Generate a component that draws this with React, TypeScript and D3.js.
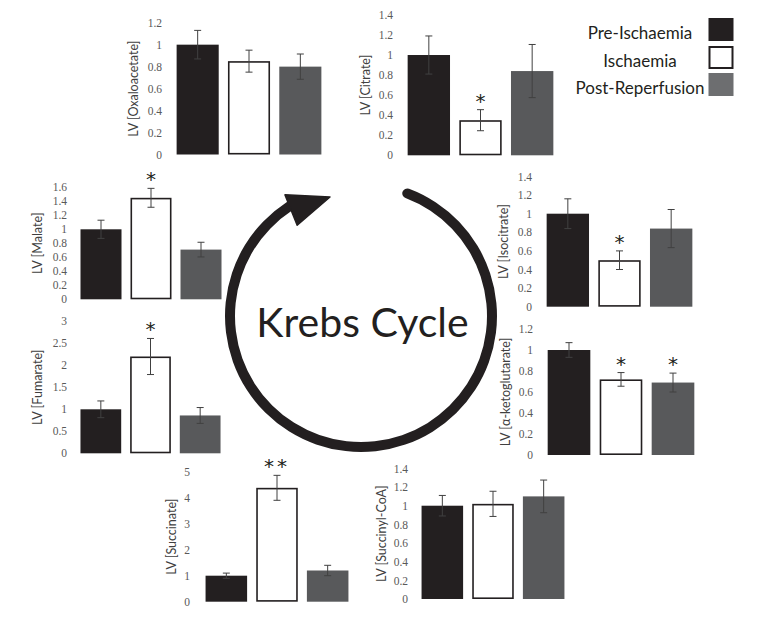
import React, { useEffect, useRef } from 'react';
import * as d3 from 'd3';

// data
const groups = ['Pre-Ischaemia', 'Ischaemia', 'Post-Reperfusion'];
const metabolites = [
  'Oxaloacetate',
  'Citrate',
  'Malate',
  'Isocitrate',
  'Fumarate',
  'α-ketoglutarate',
  'Succinate',
  'Succinyl-CoA',
];
const means = [
  [1.0, 0.85, 0.8],
  [1.0, 0.35, 0.84],
  [1.0, 1.45, 0.71],
  [1.0, 0.5, 0.84],
  [1.0, 2.2, 0.86],
  [1.0, 0.72, 0.69],
  [1.0, 4.38, 1.2],
  [1.0, 1.02, 1.1],
];
const errors = [
  [0.13, 0.1, 0.115],
  [0.19, 0.105, 0.265],
  [0.13, 0.135, 0.105],
  [0.16, 0.1, 0.205],
  [0.19, 0.41, 0.18],
  [0.07, 0.065, 0.09],
  [0.1, 0.48, 0.2],
  [0.11, 0.135, 0.175],
];
const stars = [
  ['', '', ''],
  ['', '*', ''],
  ['', '*', ''],
  ['', '*', ''],
  ['', '*', ''],
  ['', '*', '*'],
  ['', '**', ''],
  ['', '', ''],
];
const axisMax = [1.2, 1.4, 1.6, 1.4, 3, 1.2, 5, 1.4];
const tickStep = [0.2, 0.2, 0.2, 0.2, 0.5, 0.2, 1, 0.2];

// layout of each small chart: bar range left/right, baseline y, top y, tick label x, title x
const panels = [
  [172, 326, 154.5, 22.7, 162, 133],
  [403, 558, 155.3, 14.9, 393, 365],
  [76, 226, 299.3, 187.3, 67, 37],
  [542, 697, 306.7, 176.5, 532, 503],
  [76, 225, 453.3, 321.3, 67, 37],
  [543, 699, 455, 329, 533, 505],
  [201, 353, 601.7, 471.7, 190, 171],
  [417, 569, 599, 468.4, 408, 381],
];

const colors = ['#231f20', '#ffffff', '#58595b'];
const legendColors = ['#231f20', '#ffffff', '#6d6e70'];
const deg = Math.PI / 180;

export default function App() {
  const ref = useRef<SVGSVGElement>(null);

  useEffect(() => {
    draw();
  }, []);

  function draw() {
    const svg = d3.select(ref.current);
    svg.selectAll('*').remove();

    metabolites.forEach((name, i) => {
      const [bx0, bx1, y0, yTop, tickX, titleX] = panels[i];
      const x = d3.scaleBand().domain(groups).range([bx0, bx1]).paddingInner(0.18).paddingOuter(0.09);
      const y = d3.scaleLinear().domain([0, axisMax[i]]).range([y0, yTop]);
      const g = svg.append('g').attr('class', 'panel');

      // y axis labels only
      const ticks = d3.range(0, axisMax[i] + tickStep[i] / 2, tickStep[i]);
      const axis = g
        .append('g')
        .attr('transform', `translate(${tickX},0)`)
        .call(
          d3
            .axisLeft(y)
            .tickValues(ticks)
            .tickSize(0)
            .tickPadding(0)
            .tickFormat((d) => String(+(+d).toFixed(1)))
        );
      axis.select('.domain').remove();
      axis
        .selectAll('text')
        .attr('font-family', '"Liberation Serif", serif')
        .attr('font-size', 11.5)
        .attr('fill', '#595959');

      g.append('text')
        .attr('transform', `translate(${titleX},${(y0 + yTop) / 2}) rotate(-90)`)
        .attr('text-anchor', 'middle')
        .attr('dominant-baseline', 'central')
        .attr('font-family', 'Lato, sans-serif')
        .attr('font-size', 12.5)
        .attr('fill', '#404040')
        .text(`LV [${name}]`);

      const rows = groups.map((grp, j) => ({ grp, j, m: means[i][j], e: errors[i][j], s: stars[i][j] }));

      g.selectAll('rect.bar')
        .data(rows)
        .enter()
        .append('rect')
        .attr('class', 'bar')
        .attr('x', (d) => x(d.grp)! + (d.j === 1 ? 0.8 : 0))
        .attr('width', (d) => x.bandwidth() - (d.j === 1 ? 1.6 : 0))
        .attr('y', (d) => y(d.m) + (d.j === 1 ? 0.8 : 0))
        .attr('height', (d) => y(0) - y(d.m) - (d.j === 1 ? 1.6 : 0))
        .attr('fill', (d) => colors[d.j])
        .attr('stroke', (d) => (d.j === 1 ? '#231f20' : 'none'))
        .attr('stroke-width', 1.6);

      g.selectAll('path.err')
        .data(rows)
        .enter()
        .append('path')
        .attr('class', 'err')
        .attr('d', (d) => {
          const cx = x(d.grp)! + x.bandwidth() / 2;
          const hi = y(d.m + d.e);
          const lo = y(d.m - d.e);
          return `M${cx - 3.5},${hi}H${cx + 3.5}M${cx},${hi}V${lo}M${cx - 3.5},${lo}H${cx + 3.5}`;
        })
        .attr('fill', 'none')
        .attr('stroke', '#404040')
        .attr('stroke-width', 1);

      g.selectAll('text.star')
        .data(rows.filter((d) => d.s))
        .enter()
        .append('text')
        .attr('class', 'star')
        .attr('x', (d) => x(d.grp)! + x.bandwidth() / 2)
        .attr('y', (d) => y(d.m + d.e) + 3)
        .attr('dy', '-0.25em')
        .attr('text-anchor', 'middle')
        .attr('font-family', '"DejaVu Sans", sans-serif')
        .attr('font-size', 20)
        .attr('letter-spacing', (d) => (d.s.length > 1 ? 3 : 0))
        .attr('fill', '#231f20')
        .text((d) => d.s);
    });

    // Krebs cycle ring and arrow
    const ring = svg.append('g').attr('transform', 'translate(361,316)');
    const arc = d3.arc().cornerRadius(5);
    ring
      .append('path')
      .attr('d', arc({ innerRadius: 126, outerRadius: 136, startAngle: 18.5 * deg, endAngle: 329 * deg } as any) as string)
      .attr('fill', '#231f20');
    const head: [number, number][] = [
      d3.pointRadial(-14.6 * deg, 123),
      d3.pointRadial(-32.1 * deg, 143),
      d3.pointRadial(-35.1 * deg, 111),
    ];
    ring
      .append('path')
      .attr('d', `M${head.map((p) => p.join(',')).join('L')}Z`)
      .attr('fill', '#231f20')
      .attr('stroke', '#231f20')
      .attr('stroke-width', 1.5)
      .attr('stroke-linejoin', 'round');
    svg
      .append('text')
      .attr('x', 362.5)
      .attr('y', 336.7)
      .attr('text-anchor', 'middle')
      .attr('font-family', 'Lato, sans-serif')
      .attr('font-size', 41)
      .attr('fill', '#231f20')
      .text('Krebs Cycle');

    // legend
    const legendY = [18, 46, 73];
    const legend = svg
      .selectAll('g.legend')
      .data(groups)
      .enter()
      .append('g')
      .attr('class', 'legend')
      .attr('transform', (d, j) => `translate(0,${legendY[j]})`);
    legend
      .append('rect')
      .attr('x', (d, j) => (j === 1 ? 709.5 : 708.5))
      .attr('y', (d, j) => (j === 1 ? 1 : 0))
      .attr('width', (d, j) => (j === 1 ? 23 : 25))
      .attr('height', (d, j) => (j === 1 ? 21 : 23))
      .attr('fill', (d, j) => legendColors[j])
      .attr('stroke', (d, j) => (j === 1 ? '#231f20' : 'none'))
      .attr('stroke-width', 2);
    legend
      .append('text')
      .attr('x', 640)
      .attr('y', 20.5)
      .attr('text-anchor', 'middle')
      .attr('font-family', 'Lato, sans-serif')
      .attr('font-size', 17)
      .attr('fill', '#231f20')
      .text((d) => d);
  }

  return (
    <svg
      ref={ref}
      width={758}
      height={631}
      style={{ position: 'absolute', left: 0, top: 0, background: '#fff' }}
    />
  );
}
